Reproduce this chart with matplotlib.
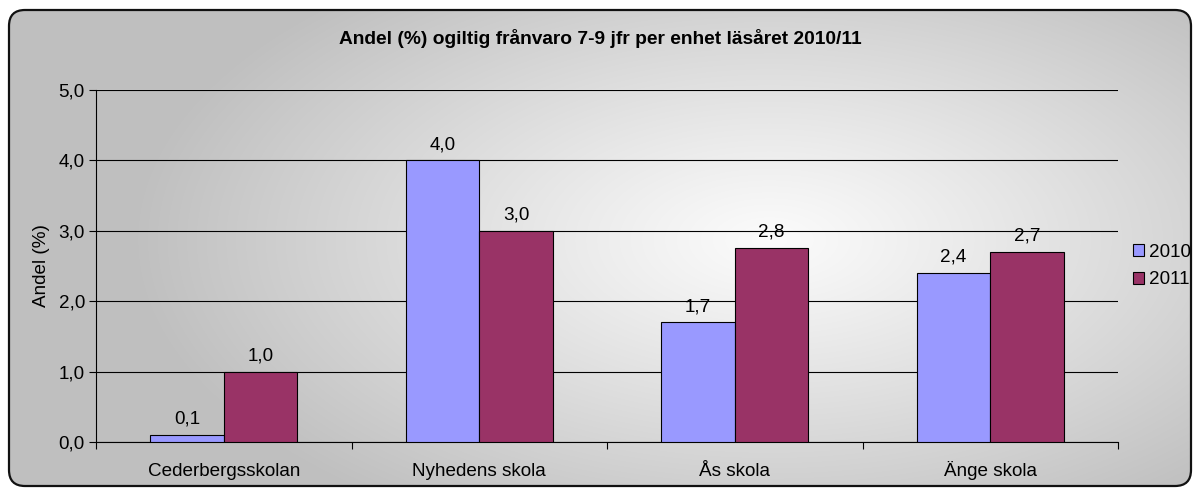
import numpy as np
import matplotlib
matplotlib.use("Agg")
import matplotlib.pyplot as plt
from matplotlib.patches import FancyBboxPatch

plt.rcParams['font.family'] = ['Liberation Sans', 'DejaVu Sans']

categories = ["Cederbergsskolan", "Nyhedens skola", "Ås skola", "Änge skola"]
values_2010 = [0.1, 4.0, 1.7, 2.4]
values_2011 = [1.0, 3.0, 2.76, 2.7]
labels_2010 = ["0,1", "4,0", "1,7", "2,4"]
labels_2011 = ["1,0", "3,0", "2,8", "2,7"]
series_names = ["2010", "2011"]
yticks = [0, 1, 2, 3, 4, 5]
ytick_labels = ["0,0", "1,0", "2,0", "3,0", "4,0", "5,0"]

FS = 13.6

W, H = 1201, 495
fig = plt.figure(figsize=(W/100, H/100), dpi=100)
fig.patch.set_facecolor("white")

# background gradient inside rounded frame
bg = fig.add_axes([0, 0, 1, 1], zorder=0)
bg.set_xlim(0, W); bg.set_ylim(H, 0); bg.axis("off")
xx, yy = np.meshgrid(np.linspace(0, W, 400), np.linspace(0, H, 200))
cx, cy = 770, 240
r = np.sqrt(((xx - cx) / 640) ** 2 + ((yy - cy) / 330) ** 2)
r = np.clip(r, 0, 1)
g = 0.985 - (0.985 - 0.75) * r ** 1.1
img = np.dstack([g, g, g])
frame = FancyBboxPatch((9, 10), 1182, 476, boxstyle="round,pad=0,rounding_size=16",
                       linewidth=1.6, edgecolor="#111111", facecolor="none",
                       transform=bg.transData)
im = bg.imshow(img, extent=(0, W, H, 0), aspect="auto", interpolation="bilinear")
clip = FancyBboxPatch((9, 10), 1182, 476, boxstyle="round,pad=0,rounding_size=16",
                      transform=bg.transData, facecolor="none", edgecolor="none")
bg.add_patch(clip)
im.set_clip_path(clip)
bg.add_patch(frame)

# main axes: left 96, right 1118, top 90 (5.0), bottom 442 (0.0)
L, R, T, B = 96, 1118, 90, 442
ax = fig.add_axes([L/W, 1 - B/H, (R-L)/W, (B-T)/H], zorder=1)
ax.patch.set_alpha(0)
x = np.arange(len(categories))
w = 0.2875
c1, c2 = "#9999FF", "#993366"
b1 = ax.bar(x - w/2, values_2010, w, color=c1, edgecolor="black", linewidth=0.8, label=series_names[0], zorder=3)
b2 = ax.bar(x + w/2, values_2011, w, color=c2, edgecolor="black", linewidth=0.8, label=series_names[1], zorder=3)
for xi, v, lab in zip(x, values_2010, labels_2010):
    ax.text(xi - w/2, v + 0.1, lab, ha="center", va="bottom", fontsize=FS)
for xi, v, lab in zip(x, values_2011, labels_2011):
    ax.text(xi + w/2, v + 0.1, lab, ha="center", va="bottom", fontsize=FS)

ax.set_xlim(-0.5, len(categories) - 0.5)
ax.set_ylim(0, 5)
ax.set_yticks(yticks)
ax.set_yticklabels(ytick_labels, fontsize=FS)
ax.yaxis.grid(True, color="black", linewidth=0.8, zorder=0)
ax.set_axisbelow(True)
ax.set_xticks(x)
ax.set_xticklabels(categories, fontsize=FS)
ax.xaxis.set_tick_params(length=0, pad=24.5)
for t in ax.get_xticklabels():
    t.set_verticalalignment("baseline")
ax.set_xticks(np.arange(-0.5, len(categories)), minor=True)
ax.tick_params(axis="x", which="minor", length=5, width=0.8, direction="out")
ax.tick_params(axis="y", length=5, width=0.8, direction="out", pad=3)
for s in ["top", "right"]:
    ax.spines[s].set_visible(False)
ax.spines["left"].set_linewidth(0.8)
ax.spines["bottom"].set_linewidth(0.8)
ax.set_ylabel("Andel (%)", fontsize=FS, labelpad=6)

fig.text(600/W, 1 - 38/H, "Andel (%) ogiltig frånvaro 7-9 jfr per enhet läsåret 2010/11",
         ha="center", va="center", fontsize=13.8, fontweight="bold", zorder=2)

leg = fig.legend(handles=[b1, b2], labels=series_names, loc="center left",
                 bbox_to_anchor=(1116/W, 1 - 266/H), frameon=False, fontsize=FS,
                 handlelength=0.6, handleheight=0.6, handletextpad=0.25, labelspacing=0.55)

fig.savefig("out.png", dpi=100)
